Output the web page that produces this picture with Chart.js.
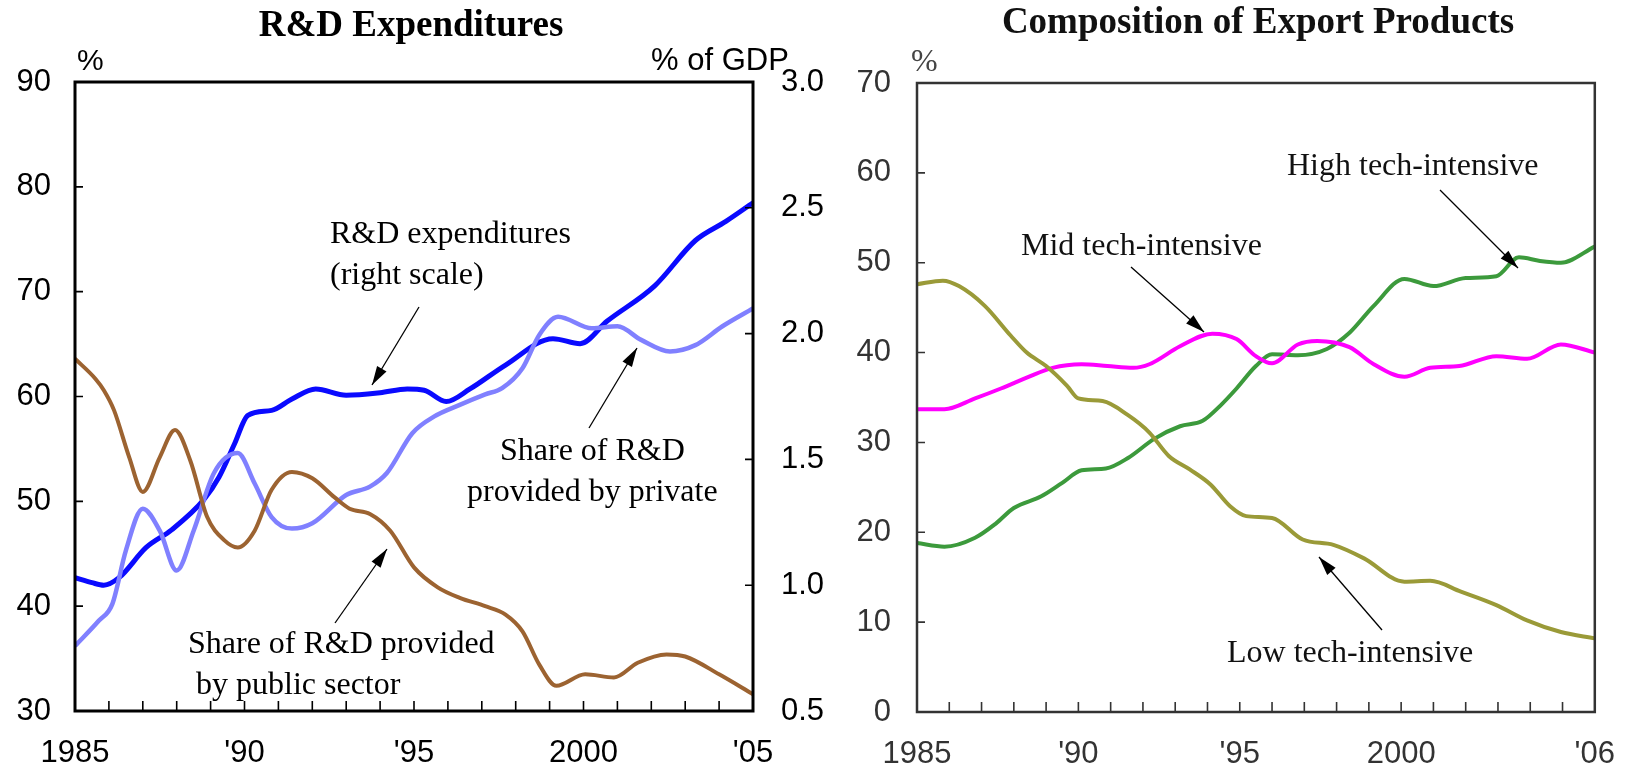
<!DOCTYPE html>
<html><head><meta charset="utf-8">
<script src="https://cdn.jsdelivr.net/npm/chart.js@4.4.1/dist/chart.umd.min.js"></script>
<style>
html,body{margin:0;padding:0;background:#fff;width:1639px;height:773px;overflow:hidden;}
canvas{position:absolute;top:0;}
#c1{left:0;} #c2{left:800px;}
</style></head><body>
<canvas id="c1" width="850" height="773"></canvas>
<canvas id="c2" width="839" height="773"></canvas>
<script>
// ---------- Left chart: R&D Expenditures ----------
const rdYears = [1985.0,1985.5,1985.85,1986.3,1987.1,1987.85,1988.8,1989.25,1989.7,1990.1,1990.8,1991.4,1992.1,1993.0,1994.0,1994.8,1995.3,1995.95,1996.65,1997.7,1999.1,1999.9,2000.7,2002.1,2003.3,2004.2,2005.0];
const rdGdp   = [1.03,1.01,1.00,1.03,1.15,1.22,1.34,1.43,1.56,1.675,1.695,1.74,1.78,1.755,1.765,1.78,1.775,1.73,1.78,1.875,1.98,1.96,2.05,2.19,2.37,2.446,2.52];

const privYears = [1985.0,1985.7,1986.1,1986.5,1987.0,1987.5,1988.0,1988.5,1989.1,1989.8,1990.3,1990.8,1991.4,1992.0,1993.0,1993.7,1994.2,1994.95,1995.6,1996.35,1997.1,1997.6,1998.2,1998.7,1999.25,2000.25,2001.0,2001.7,2002.55,2003.3,2004.1,2005.0];
const privShare = [36.2,38.6,40.2,45.3,49.3,47.2,43.4,47.2,52.7,54.6,51.7,48.5,47.4,47.9,50.6,51.4,52.7,56.5,58.1,59.2,60.2,60.8,62.7,65.9,67.6,66.5,66.7,65.4,64.3,64.9,66.7,68.4];

const pubYears = [1985.0,1985.6,1985.85,1986.15,1986.6,1987.0,1987.5,1987.95,1988.4,1988.9,1989.4,1989.8,1990.3,1990.8,1991.4,1992.0,1992.65,1993.1,1993.7,1994.3,1995.0,1995.7,1996.35,1997.1,1997.7,1998.2,1998.7,1999.2,2000.05,2000.9,2001.6,2002.45,2003.0,2004.0,2005.0];
const pubShare = [63.6,61.7,60.6,58.7,54.2,50.9,54.2,56.8,53.9,48.5,46.3,45.6,47.2,51.1,52.8,52.2,50.4,49.3,48.8,47.2,43.7,41.8,40.8,40.0,39.2,37.6,34.4,32.4,33.5,33.2,34.6,35.4,35.2,33.5,31.6];

const leftXTicks  = [1985,1990,1995,2000,2005];
const leftXLabels = ['1985',"'90","'95",'2000',"'05"];

// ---------- Right chart: Composition of Export Products ----------
const highYears = [1985.0,1985.85,1986.8,1987.45,1988.0,1988.85,1989.5,1990.1,1990.85,1991.55,1992.35,1993.15,1993.85,1994.4,1994.9,1995.5,1996.0,1996.8,1997.7,1998.4,1999.15,2000.1,2001.0,2002.0,2002.95,2003.65,2004.3,2004.95,2006.0];
const highTech  = [18.8,18.4,19.4,21.0,22.7,24.0,25.5,26.9,27.1,28.3,30.4,31.8,32.4,34.1,36.0,38.5,39.8,39.7,40.4,42.2,45.2,48.2,47.4,48.3,48.5,50.6,50.2,50.0,51.8];

const midYears = [1985.0,1985.85,1986.8,1987.6,1988.4,1989.2,1990.1,1990.9,1991.7,1992.2,1993.15,1994.15,1994.9,1995.5,1996.0,1996.8,1997.4,1998.4,1999.15,2000.1,2000.9,2001.8,2002.95,2003.9,2004.95,2006.0];
const midTech  = [33.7,33.7,34.9,36.0,37.2,38.3,38.7,38.5,38.3,38.7,40.7,42.1,41.5,39.6,38.8,40.9,41.3,40.6,38.7,37.3,38.3,38.5,39.6,39.3,40.9,40.0];

const lowYears = [1985.0,1985.8,1986.3,1987.1,1987.9,1988.4,1989.0,1989.65,1990.0,1990.75,1991.55,1992.2,1992.8,1993.45,1994.1,1994.7,1995.2,1996.0,1996.95,1997.9,1998.85,2000.1,2000.9,2001.85,2002.95,2003.9,2004.95,2006.0];
const lowTech  = [47.6,48.0,47.4,45.2,41.9,40.0,38.5,36.3,34.9,34.6,33.0,31.1,28.5,27.0,25.3,22.9,21.8,21.6,19.2,18.6,17.1,14.5,14.6,13.4,11.9,10.2,8.9,8.2];

const rightXTicks  = [1985,1990,1995,2000,2006];
const rightXLabels = ['1985',"'90","'95",'2000',"'06"];

// ---------- helpers ----------
const pts = (xs, ys) => xs.map((x, i) => ({x, y: ys[i]}));
const SANS = '"Liberation Sans", Arial, sans-serif';
const SERIF = '"Liberation Serif", "Times New Roman", serif';

function arrow(ctx, x1, y1, x2, y2) {
  ctx.beginPath(); ctx.moveTo(x1, y1); ctx.lineTo(x2, y2);
  ctx.lineWidth = 1.3; ctx.strokeStyle = '#000'; ctx.stroke();
  const a = Math.atan2(y2 - y1, x2 - x1), h = 19, w = 5.5;
  ctx.beginPath(); ctx.moveTo(x2, y2);
  ctx.lineTo(x2 - h*Math.cos(a) + w*Math.sin(a), y2 - h*Math.sin(a) - w*Math.cos(a));
  ctx.lineTo(x2 - h*Math.cos(a) - w*Math.sin(a), y2 - h*Math.sin(a) + w*Math.cos(a));
  ctx.closePath(); ctx.fillStyle = '#000'; ctx.fill();
}
function text(ctx, s, x, y, font, color, align) {
  ctx.font = font; ctx.fillStyle = color || '#000';
  ctx.textAlign = align || 'left'; ctx.textBaseline = 'middle';
  ctx.fillText(s, x, y);
}
function lineDs(label, data, color, width, yAxisID) {
  return {label, data, borderColor: color, backgroundColor: color, borderWidth: width,
    pointRadius: 0, cubicInterpolationMode: 'monotone', fill: false, yAxisID: yAxisID || 'y'};
}

// ---------- left chart ----------
const leftDecor = {
  id: 'leftDecor',
  afterDraw(chart) {
    const {ctx, chartArea: a, scales} = chart;
    ctx.save();
    ctx.strokeStyle = '#000'; ctx.lineWidth = 3;
    ctx.strokeRect(a.left, a.top, a.right - a.left, a.bottom - a.top);
    ctx.lineWidth = 1.6; ctx.beginPath();
    for (let yr = 1986; yr < 2005; yr++) { const x = scales.x.getPixelForValue(yr); ctx.moveTo(x, a.bottom); ctx.lineTo(x, a.bottom - 10); }
    for (let v = 40; v < 90; v += 10) { const y = scales.y.getPixelForValue(v); ctx.moveTo(a.left, y); ctx.lineTo(a.left + 8, y); }
    for (let v = 1.0; v < 3.0; v += 0.5) { const y = scales.y1.getPixelForValue(v); ctx.moveTo(a.right, y); ctx.lineTo(a.right - 8, y); }
    ctx.stroke();
    text(ctx, 'R&D Expenditures', 411, 26, 'bold 37px ' + SERIF, '#000', 'center');
    text(ctx, '%', 77, 62, '30px ' + SANS);
    text(ctx, '% of GDP', 651, 61, '31px ' + SANS);
    const f = '32px ' + SERIF;
    text(ctx, 'R&D expenditures', 330, 235, f);
    text(ctx, '(right scale)', 330, 276, f);
    text(ctx, 'Share of R&D', 500, 452, f);
    text(ctx, 'provided by private', 467, 493, f);
    text(ctx, 'Share of R&D provided', 188, 645, f);
    text(ctx, 'by public sector', 196, 686, f);
    arrow(ctx, 419, 307, 372, 385);
    arrow(ctx, 589, 428, 637, 348);
    arrow(ctx, 335, 623, 387, 549);
    ctx.restore();
  }
};

new Chart(document.getElementById('c1'), {
  type: 'line',
  data: { datasets: [
    lineDs('Share of R&D provided by public sector', pts(pubYears, pubShare), '#9c6331', 4),
    lineDs('Share of R&D provided by private', pts(privYears, privShare), '#8080ff', 4.5),
    lineDs('R&D expenditures (right scale)', pts(rdYears, rdGdp), '#0a0aff', 5, 'y1'),
  ]},
  options: {
    responsive: false, animation: false, devicePixelRatio: 1,
    layout: { padding: { top: 82, left: 0, right: 0, bottom: 0 } },
    plugins: { legend: { display: false }, tooltip: { enabled: false } },
    scales: {
      x: { type: 'linear', min: 1985, max: 2005, position: 'bottom',
        afterBuildTicks: s => { s.ticks = leftXTicks.map(v => ({value: v})); },
        afterFit: s => { s.height = 62; },
        grid: { display: false, drawTicks: false }, border: { display: false },
        ticks: { autoSkip: false, maxRotation: 0, padding: 24, color: '#000', font: { family: SANS, size: 31 },
          callback: (v, i) => leftXLabels[i] } },
      y: { type: 'linear', min: 30, max: 90, position: 'left',
        afterFit: s => { s.width = 75; },
        grid: { display: false, drawTicks: false }, border: { display: false },
        ticks: { stepSize: 10, padding: 24, color: '#000', font: { family: SANS, size: 31 } } },
      y1: { type: 'linear', min: 0.5, max: 3.0, position: 'right',
        afterFit: s => { s.width = 97; },
        grid: { display: false, drawTicks: false }, border: { display: false },
        ticks: { stepSize: 0.5, padding: 28, color: '#000', font: { family: SANS, size: 31 },
          callback: v => Number(v).toFixed(1) } }
    }
  },
  plugins: [leftDecor]
});

// ---------- right chart ----------
const rightDecor = {
  id: 'rightDecor',
  afterDraw(chart) {
    const {ctx, chartArea: a, scales} = chart;
    ctx.save();
    ctx.strokeStyle = '#333'; ctx.lineWidth = 2.5;
    ctx.strokeRect(a.left, a.top, a.right - a.left, a.bottom - a.top);
    ctx.lineWidth = 1.6; ctx.beginPath();
    for (let yr = 1986; yr < 2006; yr++) { const x = scales.x.getPixelForValue(yr); ctx.moveTo(x, a.bottom); ctx.lineTo(x, a.bottom - 10); }
    for (let v = 10; v < 70; v += 10) { const y = scales.y.getPixelForValue(v); ctx.moveTo(a.left, y); ctx.lineTo(a.left + 8, y); }
    ctx.stroke();
    text(ctx, 'Composition of Export Products', 458, 23, 'bold 37px ' + SERIF, '#111', 'center');
    text(ctx, '%', 111, 63, '32px ' + SERIF, '#444');
    const f = '32px ' + SERIF;
    text(ctx, 'High tech-intensive', 487, 167, f, '#111');
    text(ctx, 'Mid tech-intensive', 221, 247, f, '#111');
    text(ctx, 'Low tech-intensive', 427, 654, f, '#111');
    arrow(ctx, 640, 190, 718, 268);
    arrow(ctx, 331, 267, 404, 332);
    arrow(ctx, 582, 630, 519, 557);
    ctx.restore();
  }
};

new Chart(document.getElementById('c2'), {
  type: 'line',
  data: { datasets: [
    lineDs('Low tech-intensive', pts(lowYears, lowTech), '#9a9a38', 4),
    lineDs('Mid tech-intensive', pts(midYears, midTech), '#ff00ff', 4),
    lineDs('High tech-intensive', pts(highYears, highTech), '#3c9a3c', 4),
  ]},
  options: {
    responsive: false, animation: false, devicePixelRatio: 1,
    layout: { padding: { top: 83, left: 0, right: 28, bottom: 0 } },
    plugins: { legend: { display: false }, tooltip: { enabled: false } },
    scales: {
      x: { type: 'linear', min: 1985, max: 2006, position: 'bottom',
        afterBuildTicks: s => { s.ticks = rightXTicks.map(v => ({value: v})); },
        afterFit: s => { s.height = 61; },
        grid: { display: false, drawTicks: false }, border: { display: false },
        ticks: { autoSkip: false, maxRotation: 0, padding: 24, color: '#333', font: { family: SANS, size: 31 },
          callback: (v, i) => rightXLabels[i] } },
      y: { type: 'linear', min: 0, max: 70, position: 'left',
        afterFit: s => { s.width = 117; },
        grid: { display: false, drawTicks: false }, border: { display: false },
        ticks: { stepSize: 10, padding: 26, color: '#333', font: { family: SANS, size: 31 } } }
    }
  },
  plugins: [rightDecor]
});
</script>
</body></html>
